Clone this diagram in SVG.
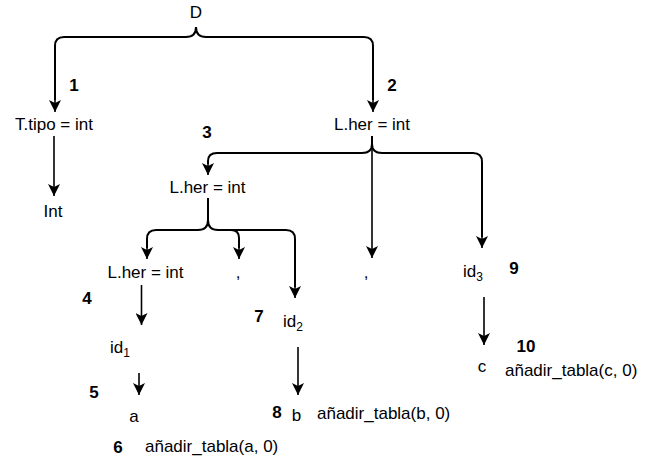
<svg xmlns="http://www.w3.org/2000/svg" width="648" height="461" viewBox="0 0 648 461">
<style>
  text { font-family: "Liberation Sans", Arial, sans-serif; font-size: 17px; fill: #000; }
  .c { text-anchor: middle; }
  .n { font-weight: bold; text-anchor: middle; }
  .sub { font-size: 12px; }
  .edge { fill: none; stroke: #000; stroke-width: 1.6; marker-end: url(#arr); }
  .brace { fill: none; stroke: #000; stroke-width: 2; }
</style>
<defs>
  <marker id="arr" viewBox="0 0 12 12" refX="12" refY="6" markerWidth="12" markerHeight="12" markerUnits="userSpaceOnUse" orient="auto">
    <path d="M0,0 L12,6 L0,12 L3,6 z" fill="#000"/>
  </marker>
</defs>
<rect width="648" height="461" fill="#fff"/>

<g id="connectors">
  <!-- D brace -->
  <path class="brace" d="M196,27 C196,34 193,37 186,37 L64,37 Q55,37 55,46 L55,100"/>
  <path class="brace" d="M196,27 C196,34 199,37 206,37 L364,37 Q373,37 373,46 L373,100"/>
  <path class="edge" d="M55,99 L55,112"/>
  <path class="edge" d="M373,99 L373,112"/>
  <!-- L.her (top) brace -->
  <path class="brace" d="M372,136 L372,144 C372,151 368,153 362,153 L217,153 Q208,153 208,161 L208,164"/>
  <path class="edge" d="M208,163 L208,175"/>
  <path class="brace" d="M372,144 C372,151 376,153 382,153 L473,153 Q482,153 482,162 L482,237"/>
  <path class="edge" d="M482,236 L482,248"/>
  <path class="edge" d="M372,144 L372,258"/>
  <!-- L.her (middle) brace -->
  <path class="brace" d="M208,198 L208,220 C208,227 204,230 198,230 L156,230 Q147,230 147,239 L147,248"/>
  <path class="edge" d="M147,247 L147,259"/>
  <path class="brace" d="M208,220 C208,227 212,230 218,230 L231,230 Q239,230 239,238 L239,248"/>
  <path class="edge" d="M239,247 L239,259"/>
  <path class="brace" d="M231,230 L286,230 Q295,230 295,239 L295,287"/>
  <path class="edge" d="M295,286 L295,298"/>
  <!-- straight arrows -->
  <path class="edge" d="M54,136 L54,196"/>
  <path class="edge" d="M141.5,285 L141.5,325"/>
  <path class="edge" d="M139,373 L139,395"/>
  <path class="edge" d="M298,347 L298,395"/>
  <path class="edge" d="M484,297 L484,345"/>
</g>

<g id="node-D"><text class="c" x="196" y="18">D</text></g>
<g id="node-ttipo"><text class="c" x="54" y="130">T.tipo = int</text></g>
<g id="node-Int"><text class="c" x="53" y="217">Int</text></g>
<g id="node-lher1"><text class="c" x="372" y="130">L.her = int</text></g>
<g id="node-lher2"><text class="c" x="207.5" y="193">L.her = int</text></g>
<g id="node-lher3"><text class="c" x="145.5" y="278">L.her = int</text></g>
<g id="node-comma1"><text class="c" x="238" y="278">,</text></g>
<g id="node-comma2"><text class="c" x="366" y="278">,</text></g>
<g id="node-id3"><text x="463" y="277">id<tspan class="sub" dy="4">3</tspan></text></g>
<g id="node-id1"><text x="110" y="353">id<tspan class="sub" dy="4">1</tspan></text></g>
<g id="node-id2"><text x="283" y="327">id<tspan class="sub" dy="4">2</tspan></text></g>
<g id="node-a"><text class="c" x="134" y="422">a</text></g>
<g id="node-b"><text class="c" x="296.5" y="421">b</text></g>
<g id="node-c"><text class="c" x="482" y="372">c</text></g>
<g id="node-tabla-a"><text x="145" y="452">añadir_tabla(a, 0)</text></g>
<g id="node-tabla-b"><text x="317" y="419">añadir_tabla(b, 0)</text></g>
<g id="node-tabla-c"><text x="505" y="376">añadir_tabla(c, 0)</text></g>

<g id="labels">
  <text class="n" x="74" y="91">1</text>
  <text class="n" x="392" y="91">2</text>
  <text class="n" x="207" y="138">3</text>
  <text class="n" x="87" y="304">4</text>
  <text class="n" x="94" y="398">5</text>
  <text class="n" x="118" y="453">6</text>
  <text class="n" x="259" y="322">7</text>
  <text class="n" x="277" y="418">8</text>
  <text class="n" x="514" y="274">9</text>
  <text class="n" x="526" y="352">10</text>
</g>
</svg>
